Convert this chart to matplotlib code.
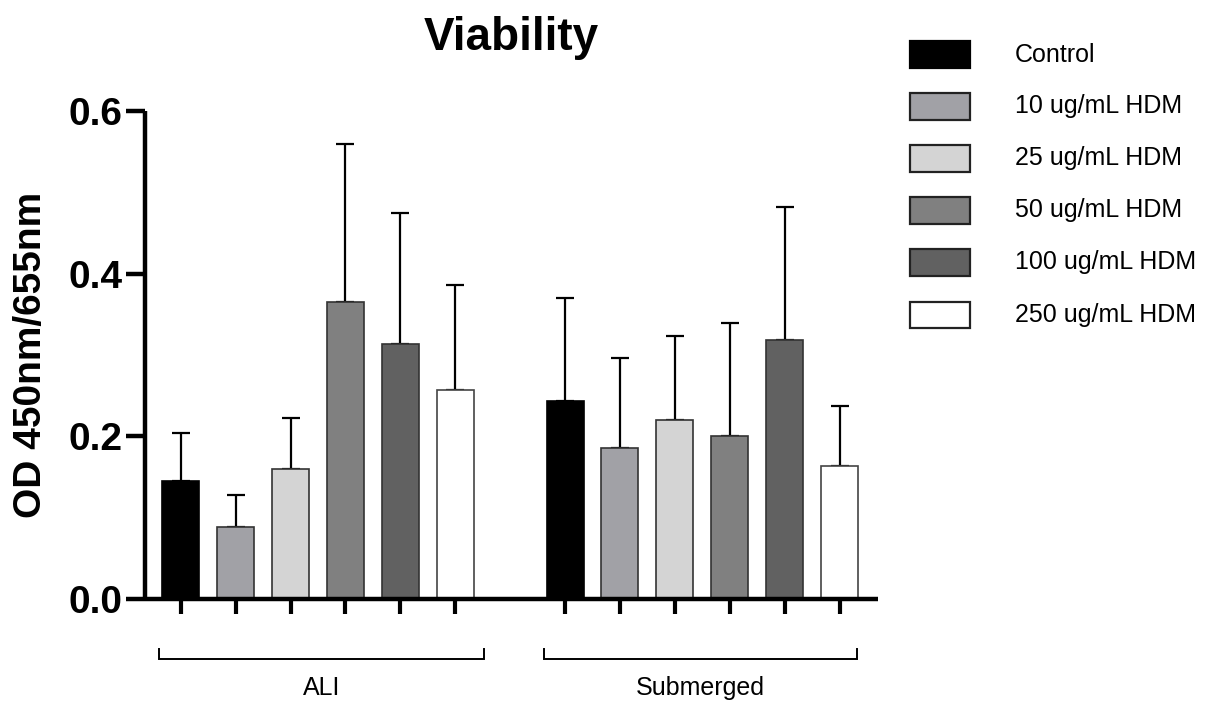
import matplotlib
matplotlib.use('Agg')
import matplotlib.pyplot as plt
import matplotlib.transforms as mtransforms
from matplotlib.patches import Rectangle
import numpy as np

plt.rcParams['font.family'] = ['Liberation Sans', 'DejaVu Sans']

# data
treatments = ['Control', '10 ug/mL HDM', '25 ug/mL HDM', '50 ug/mL HDM',
              '100 ug/mL HDM', '250 ug/mL HDM']
groups = ['ALI', 'Submerged']
ali_mean = [0.145, 0.089, 0.160, 0.365, 0.313, 0.257]
ali_top = [0.204, 0.128, 0.223, 0.560, 0.475, 0.386]   # mean + SD
sub_mean = [0.244, 0.186, 0.220, 0.201, 0.318, 0.164]
sub_top = [0.370, 0.296, 0.323, 0.339, 0.482, 0.237]

colors = ['#000000', '#a1a1a6', '#d4d4d4', '#808080', '#616161', '#ffffff']
edges = ['#000000', '#333333', '#333333', '#333333', '#333333', '#444444']

W, H = 1218, 703
fig = plt.figure(figsize=(W / 100, H / 100), dpi=100)
ax = fig.add_axes([145 / W, 1 - 599 / H, (878 - 145) / W, (599 - 111) / H])

bar_w = 0.675
pos_ali = np.arange(6)
pos_sub = np.arange(6) + 7

for pos, means, tops in [(pos_ali, ali_mean, ali_top), (pos_sub, sub_mean, sub_top)]:
    means = np.array(means)
    err = np.array(tops) - means
    ax.errorbar(pos, means, yerr=[np.zeros_like(err), err], fmt='none',
                ecolor='black', elinewidth=1.6, capsize=6.5, capthick=1.6, zorder=1)
    ax.bar(pos, means, width=bar_w, color=colors, edgecolor=edges, linewidth=1.2, zorder=2)

ax.set_xlim(-0.65, 12.7)
ax.set_ylim(0, 0.6)
ax.set_yticks([0, 0.2, 0.4, 0.6])
ax.set_yticklabels(['0.0', '0.2', '0.4', '0.6'], fontsize=28, fontweight='bold')
ax.set_xticks(np.concatenate([pos_ali, pos_sub]))
ax.set_xticklabels([])
ax.tick_params(axis='y', length=14, width=3.2, pad=2)
ax.tick_params(axis='x', length=11, width=3.0)
for s in ['top', 'right']:
    ax.spines[s].set_visible(False)
for s in ['left', 'bottom']:
    ax.spines[s].set_linewidth(3.2)
    ax.spines[s].set_capstyle('butt')

ax.set_ylabel('OD 450nm/655nm', fontsize=28, fontweight='bold', labelpad=14)
ax.set_title('Viability', fontsize=33, fontweight='bold', pad=44)

# group brackets under the axis
trans = mtransforms.blended_transform_factory(ax.transData, ax.transAxes)
spans = [(-0.40, 5.52), (6.62, 12.32)]
for (x0, x1), g in zip(spans, groups):
    ax.plot([x0, x0, x1, x1], [-0.102, -0.123, -0.123, -0.102], color='black',
            lw=1.4, transform=trans, clip_on=False, solid_joinstyle='miter')
    ax.text((x0 + x1) / 2, -0.182, g, transform=trans, ha='center', va='center',
            fontsize=18)

# legend drawn as boxes on the figure
for i, (lab, c) in enumerate(zip(treatments, colors)):
    yc = 54.5 + 52 * i
    fig.add_artist(Rectangle((910 / W, 1 - (yc + 13) / H), 60 / W, 26 / H,
                             transform=fig.transFigure, facecolor=c,
                             edgecolor='#222222' if i else 'black', linewidth=1.6))
    fig.text(1015 / W, 1 - yc / H, lab, fontsize=18, va='center', ha='left')

fig.savefig('out.png', dpi=100)
